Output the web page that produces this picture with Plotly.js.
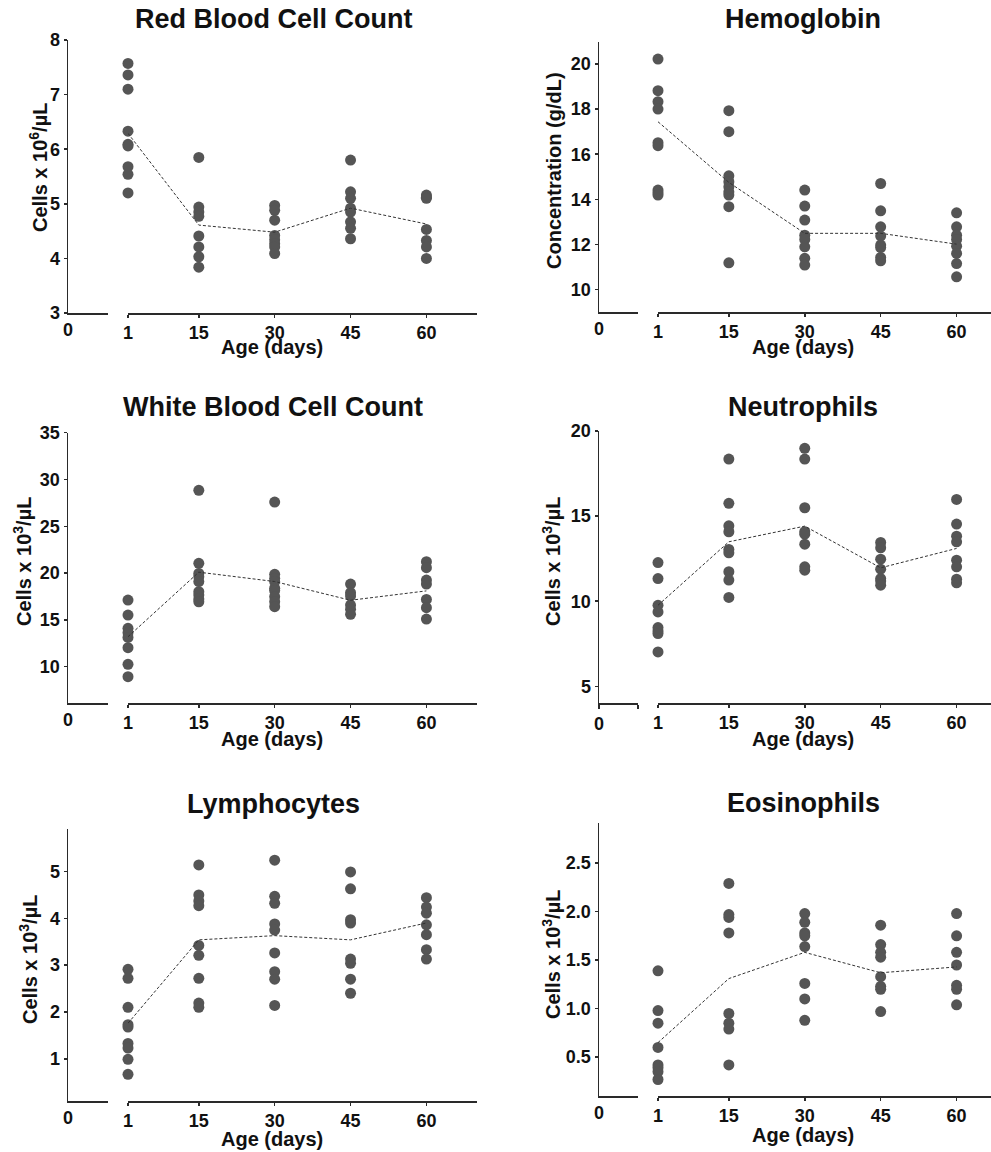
<!DOCTYPE html>
<html>
<head>
<meta charset="utf-8">
<script src="https://cdn.plot.ly/plotly-3.0.1.min.js"></script>
<style>html,body{margin:0;padding:0;background:#fff;}#chart{width:991px;height:1152px;}</style>
</head>
<body>
<div id="chart"></div>
<script>
// ---------- data ----------
const days = [1, 15, 30, 45, 60];
const zeroTick = ['0'];

const panelTitles = ['Red Blood Cell Count', 'Hemoglobin', 'White Blood Cell Count', 'Neutrophils', 'Lymphocytes', 'Eosinophils'];
const yTitles = ['Cells x 10<sup>6</sup>/µL', 'Concentration (g/dL)', 'Cells x 10<sup>3</sup>/µL', 'Cells x 10<sup>3</sup>/µL', 'Cells x 10<sup>3</sup>/µL', 'Cells x 10<sup>3</sup>/µL'];
const xTitle = 'Age (days)';

const rbcValues = [[7.57,7.36,7.10,6.33,6.09,6.06,5.68,5.54,5.20],[5.85,4.94,4.85,4.77,4.41,4.21,4.03,3.84],[4.97,4.88,4.70,4.42,4.34,4.27,4.21,4.09],[5.80,5.22,5.10,4.92,4.85,4.67,4.55,4.36],[5.16,5.12,5.10,4.53,4.33,4.21,4.00]];
const rbcMeans = [6.29, 4.61, 4.48, 4.92, 4.63];

const hgbValues = [[20.22,18.82,18.33,18.0,16.51,16.38,14.41,14.29,14.19],[17.93,17.0,15.04,14.78,14.56,14.33,14.19,13.67,11.18],[14.41,13.70,13.08,12.41,12.22,11.89,11.38,11.08],[14.70,13.49,12.78,12.37,11.97,11.86,11.42,11.27],[13.40,12.78,12.41,12.22,11.92,11.60,11.15,10.56]];
const hgbMeans = [17.44, 14.75, 12.49, 12.49, 12.01];

const wbcValues = [[17.12,15.52,14.10,13.63,13.13,12.03,10.25,8.93],[28.84,21.04,19.97,19.62,19.09,18.02,17.66,17.23,16.94],[27.59,19.87,19.44,19.09,18.38,18.13,17.48,16.94,16.41],[18.83,17.91,17.55,16.59,16.13,15.60],[21.22,20.58,19.26,18.83,17.19,16.30,15.09]];
const wbcMeans = [13.2, 20.1, 19.1, 17.1, 18.1];

const neutValues = [[12.27,11.33,9.76,9.37,8.45,8.25,8.10,7.02],[18.35,15.75,14.43,14.08,13.04,12.84,11.73,11.24,10.22],[18.98,18.35,15.49,14.08,13.94,13.35,12.02,11.82],[13.45,13.14,12.47,11.88,11.33,11.18,10.94],[15.98,14.53,13.82,13.49,12.41,12.02,11.29,11.08]];
const neutMeans = [9.76, 13.49, 14.41, 11.96, 13.10];

const lymphValues = [[2.91,2.72,2.10,1.73,1.68,1.33,1.23,0.99,0.67],[5.14,4.50,4.37,4.27,3.42,3.21,2.72,2.19,2.10],[5.24,4.47,4.32,3.88,3.75,3.26,2.86,2.70,2.14],[4.99,4.63,3.97,3.90,3.13,3.04,2.70,2.40],[4.44,4.24,4.11,3.86,3.65,3.33,3.13]];
const lymphMeans = [1.76, 3.54, 3.63, 3.54, 3.90];

const eosValues = [[1.39,0.98,0.85,0.60,0.42,0.39,0.35,0.27],[2.29,1.97,1.94,1.78,0.95,0.85,0.79,0.42],[1.98,1.89,1.78,1.75,1.64,1.26,1.10,0.88],[1.86,1.66,1.58,1.53,1.33,1.23,1.20,0.97],[1.98,1.75,1.58,1.45,1.24,1.20,1.04]];
const eosMeans = [0.65, 1.31, 1.58, 1.37, 1.43];

const yTickVals = [[3,4,5,6,7,8],[10,12,14,16,18,20],[10,15,20,25,30,35],[5,10,15,20],[1,2,3,4,5],[0.5,1.0,1.5,2.0,2.5]];
const yRanges = [[3,8],[9,21],[6.09,35],[4,20],[0.1,5.9],[0.1,2.91]];

const allValues = [rbcValues, hgbValues, wbcValues, neutValues, lymphValues, eosValues];
const allMeans = [rbcMeans, hgbMeans, wbcMeans, neutMeans, lymphMeans, eosMeans];

// ---------- geometry (pixels) ----------
const W = 991, H = 1152;
const px = v => v / W;
const py = v => 1 - v / H;
const cols = [
  {axis: 68, seg1End: 108, seg2Start: 128, seg2End: 477, xmax: 70, titleX: 273, xTitleX: 272},
  {axis: 599, seg1End: 638, seg2Start: 658, seg2End: 991, xmax: 66.8, titleX: 803, xTitleX: 803}
];
const yTitleXs = [38, 554, 22, 551, 28, 551];
const panelBoxes = [
  {top: 40, bottom: 313, titleY: 19, xTitleY: 347, yTitleY: 168},
  {top: 41.5, bottom: 312, titleY: 19, xTitleY: 347, yTitleY: 171},
  {top: 432.7, bottom: 703.3, titleY: 407, xTitleY: 739, yTitleY: 562},
  {top: 431, bottom: 703.3, titleY: 407, xTitleY: 739, yTitleY: 562},
  {top: 829.3, bottom: 1101, titleY: 804, xTitleY: 1139, yTitleY: 960},
  {top: 823.3, bottom: 1096, titleY: 803, xTitleY: 1135, yTitleY: 955}
];

const FONT = 'Liberation Sans, Arial, Helvetica, sans-serif';
const axisColor = '#2a2a2a';
const markerColor = '#555555';

const traces = [];
const layout = {
  width: W, height: H,
  margin: {l: 0, r: 0, t: 0, b: 0},
  paper_bgcolor: '#ffffff', plot_bgcolor: 'rgba(0,0,0,0)',
  showlegend: false,
  font: {family: FONT, color: '#111', weight: 700},
  annotations: []
};

for (let i = 0; i < 6; i++) {
  const c = cols[i % 2];
  const b = panelBoxes[i];
  const segAxis = 2 * i + 1, mainAxis = 2 * i + 2, yAx = i + 1;
  const segName = 'x' + segAxis, mainName = 'x' + mainAxis;
  const yName = 'y' + (yAx === 1 ? '' : yAx);
  const yLayoutName = 'yaxis' + (yAx === 1 ? '' : yAx);

  // points
  const xs = [], ys = [];
  allValues[i].forEach((arr, k) => arr.forEach(v => { xs.push(days[k]); ys.push(v); }));
  traces.push({
    type: 'scatter', mode: 'markers', x: xs, y: ys,
    xaxis: mainName, yaxis: yName,
    marker: {color: markerColor, size: 11, line: {width: 0}},
    cliponaxis: false, hoverinfo: 'skip'
  });
  // mean line
  traces.push({
    type: 'scatter', mode: 'lines', x: days, y: allMeans[i],
    xaxis: mainName, yaxis: yName,
    line: {color: '#333', width: 1, dash: '3px,2px'},
    cliponaxis: false, hoverinfo: 'skip'
  });
  // empty trace so the short "0" segment axis is drawn
  traces.push({
    type: 'scatter', mode: 'markers', x: [], y: [],
    xaxis: segName, yaxis: yName, hoverinfo: 'skip'
  });

  const tickFont = {family: FONT, size: 18, color: '#111', weight: 700};
  layout['xaxis' + segAxis] = {
    domain: [px(c.axis), px(c.seg1End)], anchor: yName,
    range: [0, 1], fixedrange: true,
    tickvals: i === 3 ? [0, 1] : [0], ticktext: i === 3 ? [zeroTick[0], ''] : zeroTick,
    ticks: i === 3 ? 'outside' : '', ticklen: 4, tickwidth: 1.5, tickcolor: axisColor,
    showline: true, linecolor: axisColor, linewidth: 1.5,
    showgrid: false, zeroline: false, tickfont: tickFont
  };
  layout['xaxis' + mainAxis] = {
    domain: [px(c.seg2Start), px(c.seg2End)], anchor: yName,
    range: [1, c.xmax], fixedrange: true,
    tickvals: days, ticktext: days.map(String),
    ticks: 'outside', ticklen: 3, tickwidth: 1.5, tickcolor: axisColor,
    showline: true, linecolor: axisColor, linewidth: 1.5,
    showgrid: false, zeroline: false, tickfont: tickFont
  };
  layout[yLayoutName] = {
    domain: [py(b.bottom), py(b.top)], anchor: segName,
    range: yRanges[i], fixedrange: true,
    tickvals: yTickVals[i], tickformat: i === 5 ? '.1f' : '',
    ticks: 'outside', ticklen: 3, tickwidth: 1.5, tickcolor: axisColor,
    showline: true, linecolor: axisColor, linewidth: 1.5,
    showgrid: false, zeroline: false, tickfont: tickFont
  };

  layout.annotations.push({
    text: panelTitles[i], xref: 'paper', yref: 'paper',
    x: px(c.titleX), y: py(b.titleY), xanchor: 'center', yanchor: 'middle',
    showarrow: false, font: {family: FONT, size: 27, color: '#111', weight: 700}
  });
  layout.annotations.push({
    text: xTitle, xref: 'paper', yref: 'paper',
    x: px(c.xTitleX), y: py(b.xTitleY), xanchor: 'center', yanchor: 'middle',
    showarrow: false, font: {family: FONT, size: 20, color: '#111', weight: 700}
  });
  layout.annotations.push({
    text: yTitles[i], xref: 'paper', yref: 'paper', textangle: -90,
    x: px(yTitleXs[i]), y: py(b.yTitleY),
    xanchor: 'center', yanchor: 'middle',
    showarrow: false, font: {family: FONT, size: 20, color: '#111', weight: 700}
  });
}

Plotly.newPlot('chart', traces, layout, {displayModeBar: false, staticPlot: true});
</script>
</body>
</html>
